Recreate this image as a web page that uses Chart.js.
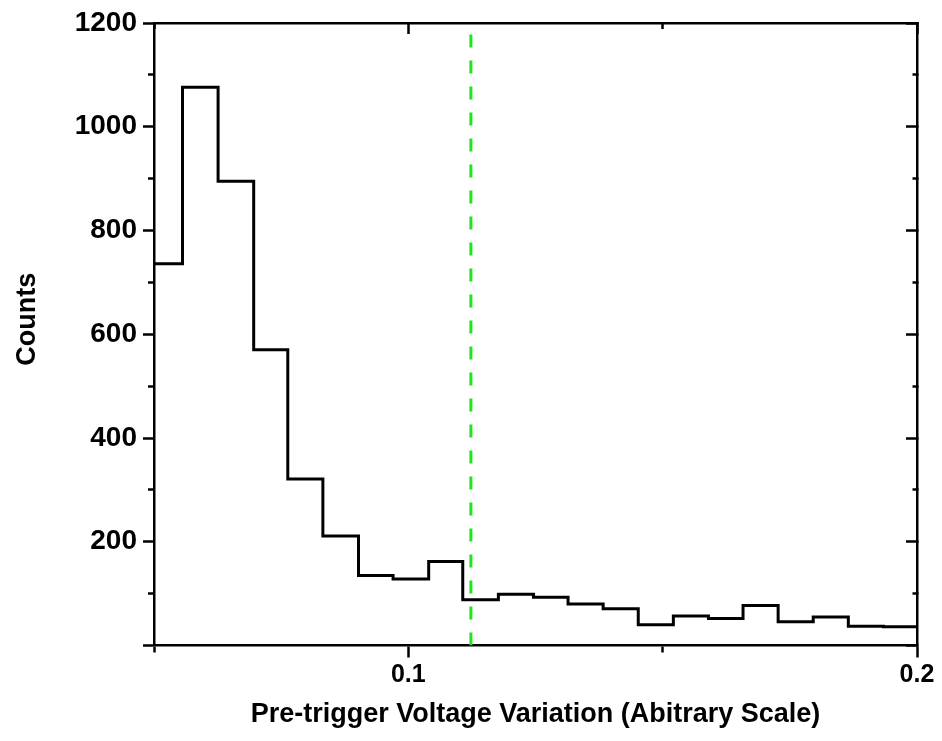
<!DOCTYPE html>
<html>
<head>
<meta charset="utf-8">
<title>Pre-trigger Voltage Variation</title>
<script src="https://cdn.jsdelivr.net/npm/chart.js@4/dist/chart.umd.min.js"></script>
<style>
  html, body { margin: 0; padding: 0; background: #fff; }
  #wrap { width: 942px; height: 741px; position: relative; }
</style>
</head>
<body>
<div id="wrap"><canvas id="histChart"></canvas></div>
<script>
// histogram bin edges (one more than counts)
var binEdges = [0.05, 0.0556, 0.0626, 0.0696, 0.0763, 0.0832, 0.0902, 0.0970, 0.1040, 0.1107,
                0.1177, 0.1246, 0.1314, 0.1383, 0.1452, 0.1521, 0.1590, 0.1658, 0.1727, 0.1796,
                0.1865, 0.1934, 0.2];
var counts = [736, 1076, 895, 570, 321, 211, 135, 128, 162, 88, 99, 93, 80, 71, 40, 57, 52, 77, 46, 55, 37, 36];

// cut position (green dashed line)
var cutValue = 0.1123;

var xTickLabels = ['0.1', '0.2'];
var yTickLabels = ['200', '400', '600', '800', '1000', '1200'];

var FONT = "'Liberation Sans', Arial, sans-serif";

// step histogram: each edge carries the count of the bin to its right,
// the last edge repeats the last count so the final bin is closed
var histPoints = [];
for (var i = 0; i < binEdges.length; i++) {
    var c = i < counts.length ? counts[i] : counts[counts.length - 1];
    histPoints.push({x: binEdges[i], y: c});
}

function isMajorX(v) {
    return Math.round(v * 100) % 10 === 0;
}
function isMajorY(v) {
    return Math.round(v) % 200 === 0;
}

// long ticks on majors, short ticks on minors (dash trick)
function dashOuter(major) { return major ? [] : [0, 5, 6, 100]; }
function dashInner(major) { return major ? [] : [6, 100]; }

function frameGrid(tickLen, dashFn, majorFn) {
    return {
        display: true,
        drawOnChartArea: false,
        drawTicks: true,
        tickLength: tickLen,
        tickColor: '#000',
        tickWidth: 2.5,
        tickBorderDash: function(ctx) { return dashFn(majorFn(ctx.tick.value)); }
    };
}

var border = {display: true, color: '#000', width: 2.5};

var config = {
    type: 'line',
    data: {
        datasets: [{
            label: 'Counts',
            data: histPoints,
            stepped: 'before',
            borderColor: '#000',
            borderWidth: 3,
            pointRadius: 0,
            fill: false,
            order: 2
        }, {
            label: 'cut',
            data: [{x: cutValue, y: 0}, {x: cutValue, y: 1200}],
            borderColor: '#1ee61e',
            borderWidth: 3,
            borderDash: [13, 13],
            pointRadius: 0,
            fill: false,
            order: 1
        }]
    },
    options: {
        responsive: true,
        maintainAspectRatio: false,
        animation: false,
        layout: {padding: 0},
        plugins: {
            legend: {display: false},
            tooltip: {enabled: false}
        },
        scales: {
            x: {
                type: 'linear',
                position: 'bottom',
                min: 0.05,
                max: 0.2,
                border: border,
                grid: frameGrid(12, dashInner, isMajorX),
                ticks: {
                    stepSize: 0.05,
                    autoSkip: false,
                    maxRotation: 0,
                    padding: 3,
                    color: '#000',
                    font: {family: FONT, size: 25, weight: 'bold'},
                    callback: function(v) {
                        var s = String(Math.round(v * 100) / 100);
                        return xTickLabels.indexOf(s) >= 0 ? s : '';
                    }
                },
                title: {
                    display: true,
                    text: 'Pre-trigger Voltage Variation (Abitrary Scale)',
                    color: '#000',
                    font: {family: FONT, size: 27, weight: 'bold'},
                    padding: {top: 0, bottom: 10}
                },
                afterFit: function(s) { s.height = 95.5; }
            },
            x2: {
                type: 'linear',
                position: 'top',
                min: 0.05,
                max: 0.2,
                border: border,
                grid: frameGrid(-11, dashOuter, isMajorX),
                ticks: {stepSize: 0.05, autoSkip: false, display: true, callback: function() { return ''; }},
                afterFit: function(s) { s.height = 23; }
            },
            y: {
                type: 'linear',
                position: 'left',
                min: 0,
                max: 1200,
                border: border,
                grid: frameGrid(11, dashOuter, isMajorY),
                ticks: {
                    stepSize: 100,
                    autoSkip: false,
                    padding: 6,
                    color: '#000',
                    font: {family: FONT, size: 28, weight: 'bold'},
                    callback: function(v) {
                        var s = String(Math.round(v));
                        return yTickLabels.indexOf(s) >= 0 ? s : '';
                    }
                },
                title: {
                    display: true,
                    // leading spaces lift the rotated label a little above the axis centre
                    text: '    Counts',
                    color: '#000',
                    font: {family: FONT, size: 27, weight: 'bold'},
                    padding: {top: 11, bottom: 0}
                },
                afterFit: function(s) { s.width = 154; }
            },
            y2: {
                type: 'linear',
                position: 'right',
                min: 0,
                max: 1200,
                border: border,
                grid: frameGrid(-11, dashInner, isMajorY),
                ticks: {stepSize: 100, autoSkip: false, callback: function() { return ''; }},
                afterFit: function(s) { s.width = 25; }
            }
        }
    }
};

var myChart = new Chart(document.getElementById('histChart'), config);
</script>
</body>
</html>
